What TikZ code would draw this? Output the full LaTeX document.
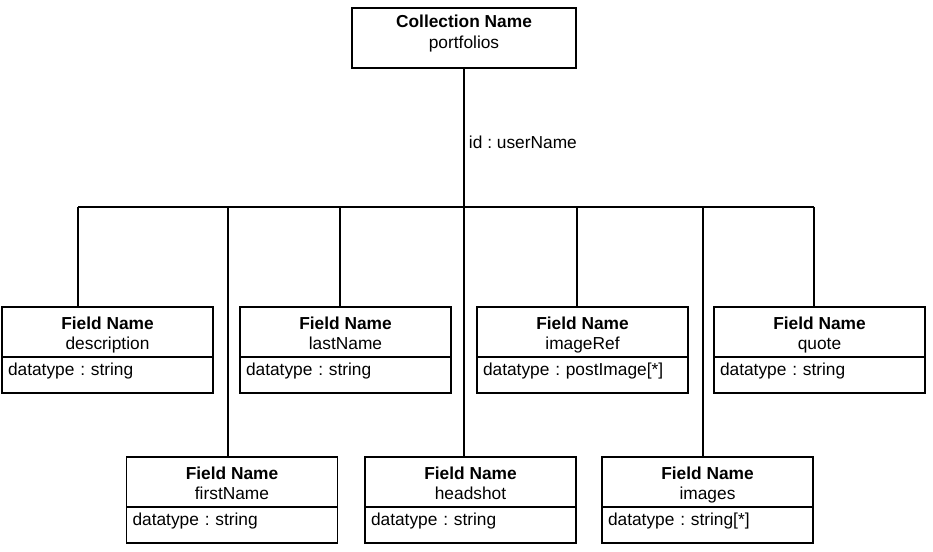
\documentclass[tikz,border=0pt]{standalone}
\usepackage{fontspec}
\setmainfont{Liberation Sans}
\usetikzlibrary{positioning,calc}
\frenchspacing
\newcommand{\diagfont}{\fontsize{13pt}{15.5pt}\selectfont}
\tikzset{
  collbox/.style={draw=black,line width=0.8pt,minimum width=168pt,
    inner sep=0pt,text height=30.5pt,text depth=14.5pt,
    align=center,font=\diagfont},
  fieldbox/.style={draw=black,line width=0.8pt,minimum width=158.25pt,
    inner sep=0pt,outer sep=0pt,text height=32.25pt,text depth=5.25pt,
    align=center,font=\diagfont},
  typebox/.style={draw=black,line width=0.8pt,anchor=north,outer sep=0pt,
    text width=149.25pt,inner xsep=4.5pt,inner ysep=1.5pt,
    text height=12.5pt,text depth=11.5pt,align=left,font=\diagfont},
  treeline/.style={line width=0.8pt,draw=black},
}

\begin{document}
\begin{tikzpicture}[x=0.75pt,y=-0.75pt]
  \useasboundingbox (0,0) rectangle (933,552);
  \node[collbox] (coll) at (464,38) {\textbf{Collection Name}\\portfolios};
  \coordinate (hub) at (464,207);
  \draw[treeline] (coll.south) -- node[pos=0.53,anchor=west,font=\diagfont] {id : userName} (hub);

  % top row
  \node[fieldbox] (description) at (107.5,332) {\textbf{Field Name}\\description};
  \node[typebox] (description-type) at (description.south) {datatype : string};
  \node[fieldbox] (lastName) at (345.5,332) {\textbf{Field Name}\\lastName};
  \node[typebox] (lastName-type) at (lastName.south) {datatype : string};
  \node[fieldbox] (imageRef) at (582.5,332) {\textbf{Field Name}\\imageRef};
  \node[typebox] (imageRef-type) at (imageRef.south) {datatype : postImage[*]};
  \node[fieldbox] (quote) at (819.5,332) {\textbf{Field Name}\\quote};
  \node[typebox] (quote-type) at (quote.south) {datatype : string};

  % bottom row
  \node[fieldbox] (firstName) at (232,482) {\textbf{Field Name}\\firstName};
  \node[typebox] (firstName-type) at (firstName.south) {datatype : string};
  \node[fieldbox] (headshot) at (470.5,482) {\textbf{Field Name}\\headshot};
  \node[typebox] (headshot-type) at (headshot.south) {datatype : string};
  \node[fieldbox] (images) at (707.5,482) {\textbf{Field Name}\\images};
  \node[typebox] (images-type) at (images.south) {datatype : string[*]};

  % branches
  \coordinate (b-description) at (78,207);
  \coordinate (b-firstName) at (228,207);
  \coordinate (b-lastName) at (340,207);
  \coordinate (b-imageRef) at (577,207);
  \coordinate (b-images) at (703,207);
  \coordinate (b-quote) at (814,207);
  \draw[treeline] (b-description) -- (b-quote);
  \draw[treeline] (b-description) -- (b-description |- description.north);
  \draw[treeline] (b-firstName) -- (b-firstName |- firstName.north);
  \draw[treeline] (b-lastName) -- (b-lastName |- lastName.north);
  \draw[treeline] (hub) -- (hub |- headshot.north);
  \draw[treeline] (b-imageRef) -- (b-imageRef |- imageRef.north);
  \draw[treeline] (b-images) -- (b-images |- images.north);
  \draw[treeline] (b-quote) -- (b-quote |- quote.north);
\end{tikzpicture}
\end{document}
